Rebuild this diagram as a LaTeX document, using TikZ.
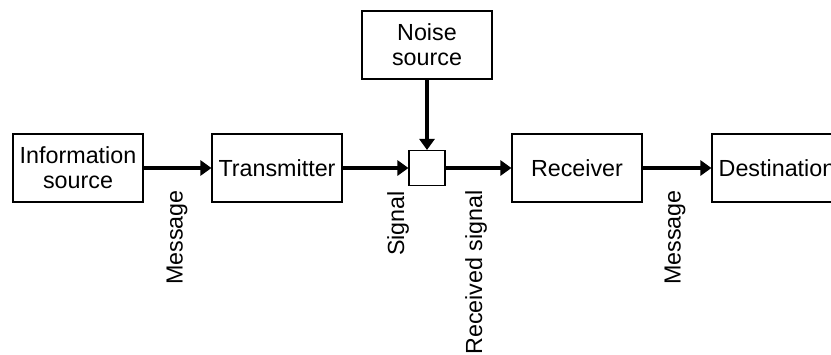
\documentclass[tikz,border=0pt]{standalone}
\usepackage{fontspec}
\setmainfont{Liberation Sans}
\usetikzlibrary{arrows.meta}
\tikzset{
  block/.style={draw, line width=1.1pt, minimum width=130pt, minimum height=68pt, align=center, inner sep=0pt},
  adder/.style={draw, line width=1.1pt, minimum width=36pt, minimum height=35pt, inner sep=0pt},
  flow/.style={line width=3.8pt, -{Triangle[length=11pt,width=15pt]}},
  lbl/.style={rotate=90, anchor=east, inner sep=0pt}
}
\begin{document}
\begin{tikzpicture}[x=1pt,y=-1pt,font=\fontsize{23.3}{25}\selectfont]
\useasboundingbox (0,0) rectangle (831,354);
\node[block] (info) at (78,168) {Information\\source};
\node[block] (trans) at (277,168) {Transmitter};
\node[adder] (mix) at (427,168) {};
\node[block] (noise) at (427,45) {Noise\\source};
\node[block] (recv) at (577,168) {Receiver};
\node[block] (dest) at (777,168) {Destination};
\draw[flow] (info) -- (trans);
\draw[flow] (trans) -- (mix);
\draw[flow] (noise) -- (mix);
\draw[flow] (mix) -- (recv);
\draw[flow] (recv) -- (dest);
\node[lbl] (msgout) at (177,190) {Message};
\node[lbl] (sig) at (398,191) {Signal};
\node[lbl] (rsig) at (476,190) {Received signal};
\node[lbl] (msgin) at (675,190) {Message};
\end{tikzpicture}
\end{document}
